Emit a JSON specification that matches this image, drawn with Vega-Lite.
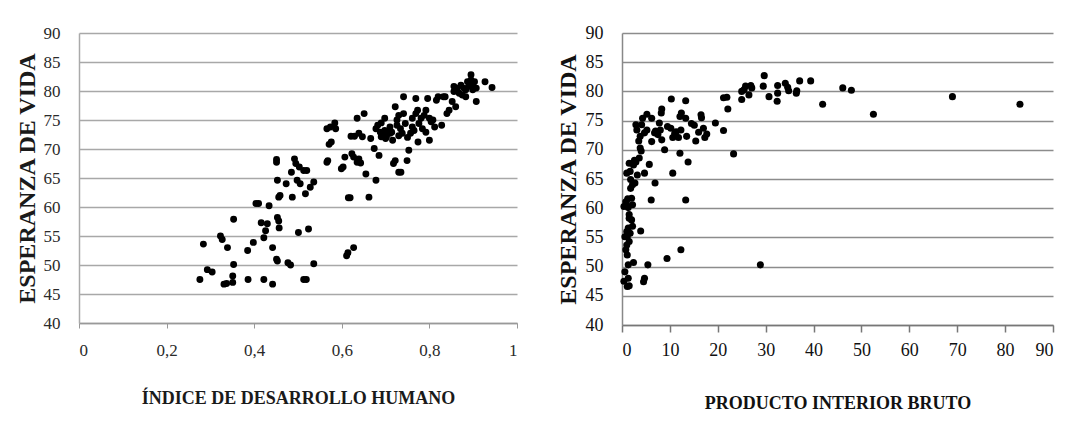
{
  "$schema": "https://vega.github.io/schema/vega-lite/v6.json",
  "padding": {"left": 14, "top": 24, "right": 5, "bottom": 5},
  "autosize": {"type": "pad"},
  "config": {
    "font": "Liberation Serif",
    "view": {"stroke": null},
    "concat": {"spacing": 37}
  },
  "datasets": {
    "idh": [
      {"h":0.276,"e":47.5},{"h":0.284,"e":53.6},{"h":0.323,"e":55.0},{"h":0.327,"e":54.4},{"h":0.339,"e":53.0},
      {"h":0.293,"e":49.2},{"h":0.304,"e":48.8},{"h":0.331,"e":46.7},{"h":0.337,"e":46.8},{"h":0.351,"e":47.0},
      {"h":0.351,"e":48.1},{"h":0.353,"e":50.1},{"h":0.353,"e":57.9},{"h":0.386,"e":47.5},{"h":0.385,"e":52.5},
      {"h":0.398,"e":53.9},{"h":0.404,"e":60.6},{"h":0.410,"e":60.6},{"h":0.422,"e":47.5},{"h":0.416,"e":57.3},
      {"h":0.422,"e":54.7},{"h":0.426,"e":55.9},{"h":0.430,"e":57.1},{"h":0.434,"e":60.2},{"h":0.442,"e":53.0},
      {"h":0.442,"e":46.7},{"h":0.451,"e":68.2},{"h":0.451,"e":67.7},{"h":0.453,"e":64.6},{"h":0.456,"e":61.7},
      {"h":0.459,"e":62.0},{"h":0.453,"e":58.2},{"h":0.456,"e":57.6},{"h":0.457,"e":56.4},{"h":0.451,"e":51.0},
      {"h":0.453,"e":50.7},{"h":0.477,"e":50.4},{"h":0.483,"e":50.0},{"h":0.473,"e":64.0},{"h":0.485,"e":66.0},
      {"h":0.487,"e":61.7},{"h":0.492,"e":68.3},{"h":0.495,"e":67.5},{"h":0.498,"e":64.6},{"h":0.505,"e":64.0},
      {"h":0.501,"e":55.6},{"h":0.503,"e":66.9},{"h":0.513,"e":66.3},{"h":0.517,"e":62.3},{"h":0.513,"e":47.5},
      {"h":0.519,"e":47.5},{"h":0.524,"e":56.2},{"h":0.528,"e":63.4},{"h":0.536,"e":64.3},{"h":0.536,"e":50.2},
      {"h":0.520,"e":66.3},{"h":0.566,"e":73.5},{"h":0.574,"e":73.8},{"h":0.568,"e":68.0},{"h":0.566,"e":67.7},
      {"h":0.571,"e":70.8},{"h":0.576,"e":71.2},{"h":0.584,"e":74.5},{"h":0.586,"e":73.5},{"h":0.599,"e":66.6},
      {"h":0.603,"e":66.9},{"h":0.607,"e":68.6},{"h":0.611,"e":51.6},{"h":0.614,"e":52.1},{"h":0.615,"e":61.6},
      {"h":0.619,"e":61.6},{"h":0.621,"e":72.2},{"h":0.629,"e":72.2},{"h":0.623,"e":69.2},{"h":0.627,"e":68.6},
      {"h":0.627,"e":53.0},{"h":0.635,"e":75.3},{"h":0.635,"e":67.7},{"h":0.639,"e":68.3},{"h":0.643,"e":67.6},
      {"h":0.639,"e":72.7},{"h":0.647,"e":72.1},{"h":0.651,"e":76.1},{"h":0.655,"e":65.7},{"h":0.662,"e":61.7},
      {"h":0.666,"e":71.8},{"h":0.674,"e":70.1},{"h":0.678,"e":64.6},{"h":0.678,"e":73.5},{"h":0.682,"e":74.1},
      {"h":0.685,"e":68.9},{"h":0.688,"e":72.9},{"h":0.690,"e":72.1},{"h":0.694,"e":72.7},{"h":0.698,"e":73.2},
      {"h":0.698,"e":75.3},{"h":0.702,"e":72.1},{"h":0.710,"e":72.7},{"h":0.710,"e":73.8},{"h":0.714,"e":72.9},
      {"h":0.718,"e":67.5},{"h":0.722,"e":68.0},{"h":0.722,"e":77.3},{"h":0.726,"e":74.1},{"h":0.726,"e":75.0},
      {"h":0.730,"e":75.8},{"h":0.730,"e":66.0},{"h":0.735,"e":66.0},{"h":0.738,"e":72.7},{"h":0.734,"e":73.5},
      {"h":0.741,"e":79.0},{"h":0.741,"e":76.1},{"h":0.745,"e":74.4},{"h":0.749,"e":68.0},{"h":0.753,"e":69.8},
      {"h":0.761,"e":73.8},{"h":0.761,"e":75.3},{"h":0.765,"e":73.2},{"h":0.769,"e":78.7},{"h":0.769,"e":76.1},
      {"h":0.773,"e":76.7},{"h":0.774,"e":71.2},{"h":0.776,"e":74.4},{"h":0.781,"e":75.3},{"h":0.784,"e":73.5},
      {"h":0.788,"e":75.8},{"h":0.792,"e":76.7},{"h":0.796,"e":78.7},{"h":0.800,"e":71.5},{"h":0.800,"e":75.3},
      {"h":0.804,"e":74.7},{"h":0.812,"e":73.8},{"h":0.816,"e":78.4},{"h":0.820,"e":79.0},{"h":0.828,"e":74.1},
      {"h":0.832,"e":79.0},{"h":0.836,"e":79.0},{"h":0.840,"e":76.1},{"h":0.845,"e":76.7},{"h":0.852,"e":78.2},
      {"h":0.856,"e":80.8},{"h":0.860,"e":77.3},{"h":0.864,"e":80.5},{"h":0.868,"e":79.6},{"h":0.872,"e":81.0},
      {"h":0.875,"e":79.3},{"h":0.879,"e":80.5},{"h":0.883,"e":80.2},{"h":0.887,"e":81.6},{"h":0.891,"e":80.8},
      {"h":0.895,"e":82.8},{"h":0.895,"e":81.9},{"h":0.899,"e":81.0},{"h":0.899,"e":80.2},{"h":0.903,"e":81.6},
      {"h":0.907,"e":80.5},{"h":0.907,"e":78.2},{"h":0.883,"e":79.0},{"h":0.927,"e":81.6},{"h":0.943,"e":80.6},
      {"h":0.856,"e":79.9},{"h":0.792,"e":72.9},{"h":0.808,"e":75.0},{"h":0.757,"e":72.7},{"h":0.700,"e":71.8},
      {"h":0.716,"e":71.5},{"h":0.730,"e":72.3},{"h":0.690,"e":74.5},{"h":0.705,"e":73.0},{"h":0.750,"e":72.0}
    ],
    "pib": [
      {"p":69.0,"e":79.1},{"p":83.1,"e":77.8},{"p":52.5,"e":76.1},{"p":47.9,"e":80.2},{"p":46.1,"e":80.6},
      {"p":41.9,"e":77.8},{"p":39.4,"e":81.8},{"p":37.1,"e":81.8},{"p":36.4,"e":79.7},{"p":36.5,"e":80.1},
      {"p":34.8,"e":80.1},{"p":34.6,"e":80.7},{"p":34.1,"e":81.4},{"p":32.5,"e":81.0},{"p":32.5,"e":79.7},
      {"p":32.4,"e":78.3},{"p":30.7,"e":79.1},{"p":29.7,"e":82.7},{"p":29.5,"e":80.9},{"p":28.9,"e":50.3},
      {"p":27.1,"e":80.6},{"p":26.9,"e":81.0},{"p":26.5,"e":79.4},{"p":25.8,"e":80.9},{"p":25.5,"e":80.3},
      {"p":25.0,"e":80.0},{"p":25.0,"e":78.6},{"p":23.3,"e":69.3},{"p":22.1,"e":77.0},{"p":21.9,"e":79.0},
      {"p":21.2,"e":78.9},{"p":21.2,"e":73.3},{"p":19.5,"e":74.6},{"p":17.7,"e":72.7},{"p":17.3,"e":72.1},
      {"p":17.0,"e":73.7},{"p":16.6,"e":75.5},{"p":16.5,"e":76.0},{"p":15.4,"e":71.5},{"p":15.1,"e":74.2},
      {"p":13.8,"e":67.9},{"p":13.3,"e":61.4},{"p":13.3,"e":78.4},{"p":13.3,"e":75.4},{"p":13.5,"e":72.3},
      {"p":12.3,"e":52.9},{"p":12.4,"e":76.3},{"p":12.1,"e":75.7},{"p":12.3,"e":73.4},{"p":12.1,"e":69.4},
      {"p":11.8,"e":72.1},{"p":11.3,"e":73.1},{"p":10.6,"e":66.0},{"p":10.3,"e":78.7},{"p":10.2,"e":73.7},
      {"p":10.6,"e":72.1},{"p":9.4,"e":51.4},{"p":8.9,"e":70.0},{"p":8.3,"e":77.0},{"p":8.2,"e":76.3},
      {"p":8.0,"e":73.4},{"p":8.3,"e":71.7},{"p":7.8,"e":74.6},{"p":7.5,"e":72.6},{"p":6.8,"e":72.9},
      {"p":6.9,"e":64.3},{"p":6.2,"e":71.4},{"p":6.2,"e":75.4},{"p":6.1,"e":61.4},{"p":5.7,"e":67.5},
      {"p":5.4,"e":50.3},{"p":5.2,"e":76.1},{"p":5.2,"e":73.4},{"p":4.7,"e":72.9},{"p":4.7,"e":48.0},
      {"p":4.5,"e":47.4},{"p":4.7,"e":66.0},{"p":4.3,"e":75.4},{"p":4.1,"e":74.3},{"p":3.9,"e":56.1},
      {"p":3.8,"e":72.3},{"p":3.8,"e":70.3},{"p":3.6,"e":68.6},{"p":3.2,"e":65.7},{"p":3.1,"e":73.4},
      {"p":2.9,"e":74.3},{"p":2.7,"e":64.3},{"p":2.9,"e":67.9},{"p":2.4,"e":67.4},{"p":2.4,"e":50.7},
      {"p":2.2,"e":60.6},{"p":2.2,"e":56.9},{"p":2.0,"e":61.7},{"p":1.8,"e":63.4},{"p":1.7,"e":66.3},
      {"p":1.5,"e":58.3},{"p":1.5,"e":67.7},{"p":1.3,"e":50.3},{"p":1.3,"e":60.1},{"p":1.1,"e":55.1},
      {"p":1.0,"e":53.7},{"p":1.0,"e":66.0},{"p":0.8,"e":61.1},{"p":0.8,"e":52.9},{"p":0.6,"e":49.1},
      {"p":0.4,"e":47.5},{"p":0.6,"e":55.1},{"p":1.1,"e":46.6},{"p":1.5,"e":46.7},{"p":1.3,"e":48.0},
      {"p":0.4,"e":60.3},{"p":1.3,"e":56.6},{"p":1.0,"e":56.0},{"p":1.5,"e":54.3},{"p":1.1,"e":52.0},
      {"p":1.7,"e":55.7},{"p":2.0,"e":58.0},{"p":1.5,"e":58.9},{"p":1.8,"e":64.9},{"p":2.2,"e":64.0},
      {"p":3.5,"e":71.5},{"p":4.0,"e":69.8},{"p":2.6,"e":68.2},{"p":9.5,"e":74.0},{"p":11.0,"e":72.8},
      {"p":7.0,"e":73.2},{"p":14.5,"e":74.5},{"p":16.0,"e":73.0},{"p":0.9,"e":60.8},{"p":1.2,"e":61.6}
    ]
  },
  "hconcat": [
    {
      "width": 438,
      "height": 290,
      "data": {"name": "idh"},
      "mark": {"type": "circle", "size": 48, "opacity": 1, "color": "#000000"},
      "encoding": {
        "x": {
          "field": "h", "type": "quantitative",
          "scale": {"domain": [0, 1], "nice": false},
          "axis": {
            "values": [0, 0.2, 0.4, 0.6, 0.8, 1],
            "labelExpr": "datum.value == 0 ? '0' : datum.value == 1 ? '1' : replace(format(datum.value, '.1f'), '.', ',')",
            "grid": false,
            "domainColor": "#999999", "domainWidth": 1.5,
            "tickColor": "#999999", "tickSize": 5, "tickWidth": 1,
            "labelFont": "Liberation Serif", "labelFontSize": 17, "labelColor": "#2a2a2a", "labelPadding": 14,
            "title": "ÍNDICE DE DESARROLLO HUMANO",
            "titleFont": "Liberation Serif", "titleFontSize": 18, "titleFontWeight": "bold", "titleColor": "#1a1a1a",
            "titlePadding": 31
          }
        },
        "y": {
          "field": "e", "type": "quantitative",
          "scale": {"domain": [40, 90], "nice": false, "zero": false},
          "axis": {
            "values": [40, 45, 50, 55, 60, 65, 70, 75, 80, 85, 90],
            "grid": true, "gridColor": "#a8a8a8", "gridWidth": 1.5,
            "ticks": false,
            "domainColor": "#aaaaaa", "domainWidth": 1.5,
            "labelFont": "Liberation Serif", "labelFontSize": 17, "labelColor": "#2a2a2a", "labelPadding": 19,
            "title": "ESPERANZA DE VIDA",
            "titleFont": "Liberation Serif", "titleFontSize": 24, "titleFontWeight": "bold", "titleColor": "#1a1a1a",
            "titlePadding": 4
          }
        }
      }
    },
    {
      "width": 431,
      "height": 292,
      "data": {"name": "pib"},
      "mark": {"type": "circle", "size": 50, "opacity": 1, "color": "#000000"},
      "encoding": {
        "x": {
          "field": "p", "type": "quantitative",
          "scale": {"domain": [0, 90], "nice": false},
          "axis": {
            "values": [0, 10, 20, 30, 40, 50, 60, 70, 80, 90],
            "grid": false,
            "domainColor": "#777777", "domainWidth": 1.5,
            "tickColor": "#777777", "tickSize": 7, "tickWidth": 1.5,
            "labelFont": "Liberation Serif", "labelFontSize": 18, "labelColor": "#111111", "labelPadding": 9,
            "title": "PRODUCTO INTERIOR BRUTO",
            "titleFont": "Liberation Serif", "titleFontSize": 18, "titleFontWeight": "bold", "titleColor": "#111111",
            "titlePadding": 35
          }
        },
        "y": {
          "field": "e", "type": "quantitative",
          "scale": {"domain": [40, 90], "nice": false, "zero": false},
          "axis": {
            "values": [40, 45, 50, 55, 60, 65, 70, 75, 80, 85, 90],
            "grid": true, "gridColor": "#8c8c8c", "gridWidth": 1.5,
            "ticks": false,
            "domainColor": "#888888", "domainWidth": 1.5,
            "labelFont": "Liberation Serif", "labelFontSize": 18, "labelColor": "#111111", "labelPadding": 19,
            "title": "ESPERANZA DE VIDA",
            "titleFont": "Liberation Serif", "titleFontSize": 24, "titleFontWeight": "bold", "titleColor": "#111111",
            "titlePadding": 5
          }
        }
      }
    }
  ]
}
